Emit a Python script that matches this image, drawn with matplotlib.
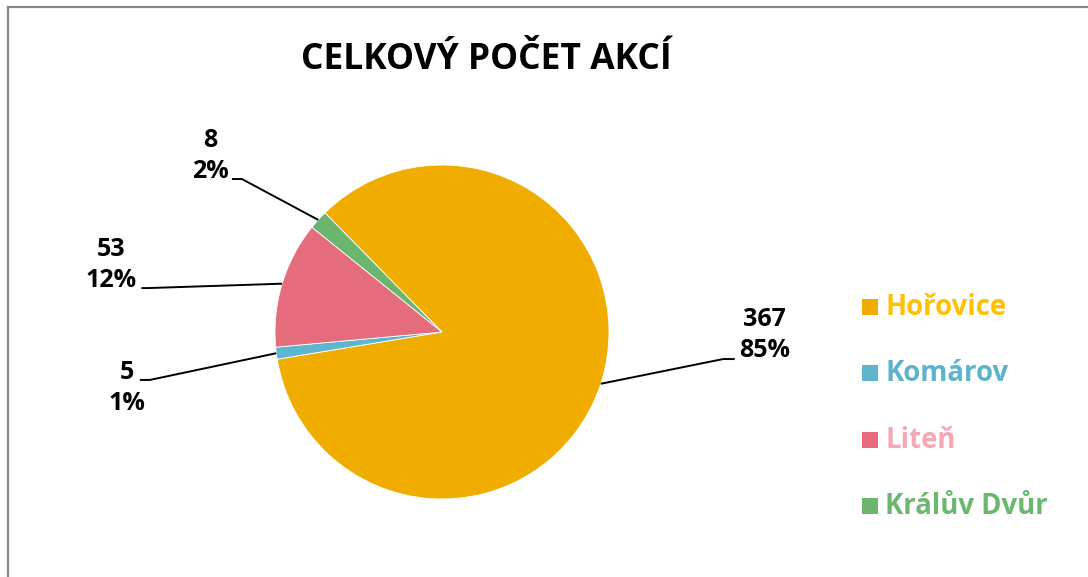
import matplotlib.pyplot as plt
from matplotlib.patches import Rectangle
from matplotlib.lines import Line2D
import numpy as np

# data
labels = ["Hořovice", "Komárov", "Liteň", "Králův Dvůr"]
values = [367, 5, 53, 8]
colors = ["#F0AD00", "#5EB5CE", "#E56C7D", "#6BB56E"]
text_colors = ["#FFC000", "#5EB3CC", "#F4A9B5", "#6CB76E"]
title = "CELKOVÝ POČET AKCÍ"

# label layout (text centre, elbow of leader line) in pie units
label_xy = [(1.93, -0.02), (-1.886, -0.335), (-1.982, 0.401), (-1.389, 1.054)]
elbow_xy = [(1.683, -0.162), (-1.749, -0.287), (-1.76, 0.263), (-1.198, 0.916)]
tail = [0.07, -0.06, -0.04, -0.06]

plt.rcParams["font.family"] = ["Open Sans", "DejaVu Sans"]

W, H = 1088, 577
fig = plt.figure(figsize=(W / 100, H / 100), dpi=100)

# frame border (only top and left visible)
fig.add_artist(Line2D([8 / W, 8 / W], [0, 1 - 7 / H], transform=fig.transFigure,
                      color="#868686", lw=1.6))
fig.add_artist(Line2D([8 / W, 1], [1 - 7 / H, 1 - 7 / H], transform=fig.transFigure,
                      color="#868686", lw=1.6))

cx, cy, r = 442, 332, 167
ax = fig.add_axes([(cx - r) / W, (H - cy - r) / H, 2 * r / W, 2 * r / H])
wedges, _ = ax.pie(values, colors=colors, startangle=134.5, counterclock=False,
                   radius=1, wedgeprops=dict(linewidth=0.6, edgecolor="white"))
ax.set_xlim(-1, 1)
ax.set_ylim(-1, 1)
ax.set_aspect("auto")
ax.axis("off")

total = sum(values)
for w, v, (tx, ty), (ex, ey), t in zip(wedges, values, label_xy, elbow_xy, tail):
    ang = np.deg2rad((w.theta1 + w.theta2) / 2)
    px, py = np.cos(ang), np.sin(ang)
    ax.plot([px, ex, ex + t], [py, ey, ey], color="black", lw=1.4,
            clip_on=False, solid_capstyle="butt")
    pct = round(v / total * 100)
    ax.text(tx, ty, f"{v}\n{pct}%", ha="center", va="center", ma="center",
            fontsize=18, fontweight="bold", color="black", linespacing=1.3,
            clip_on=False)

fig.text(486 / W, 1 - 69 / H, title, ha="center", va="baseline",
         fontsize=25.5, fontweight="bold", color="black")

# legend
rows = [307, 373, 440, 506]
for lab, c, tc, ry in zip(labels, colors, text_colors, rows):
    fig.add_artist(Rectangle((862 / W, 1 - (ry + 8) / H), 16 / W, 16 / H,
                             transform=fig.transFigure, facecolor=c, edgecolor="none"))
    fig.text(885 / W, 1 - (ry + 8) / H, lab, ha="left", va="baseline",
             fontsize=19.8, fontweight="bold", color=tc)

plt.savefig("out.png", dpi=100)
